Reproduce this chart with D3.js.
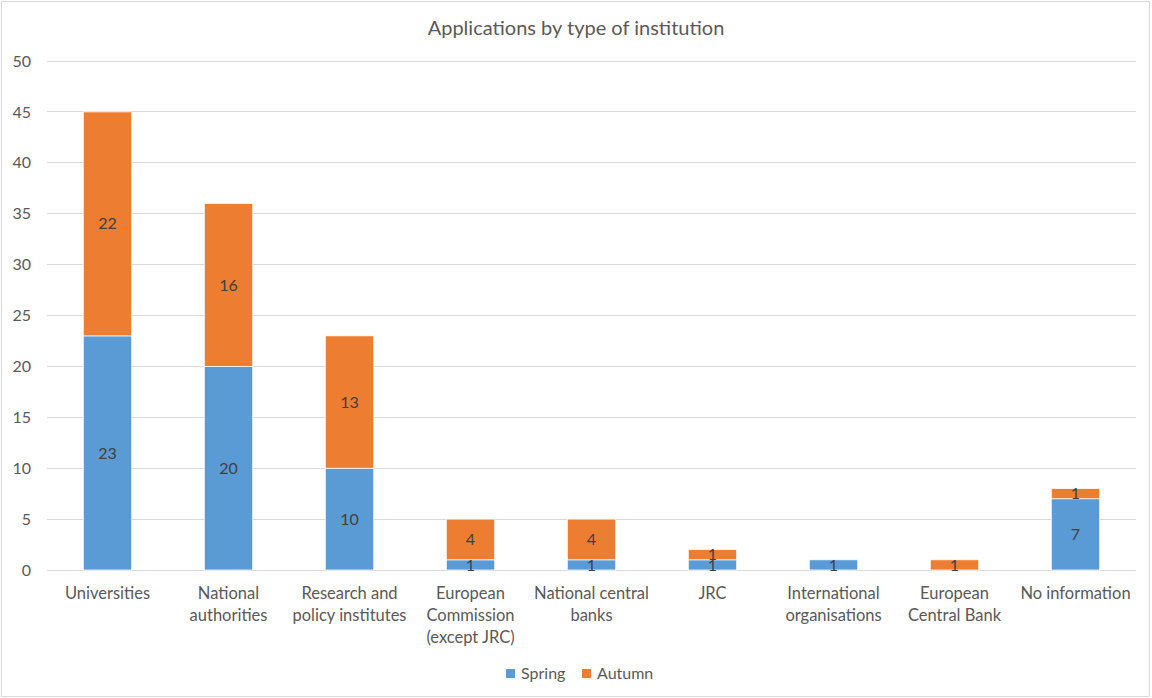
<!DOCTYPE html>
<html><head><meta charset="utf-8">
<script src="https://cdn.jsdelivr.net/npm/d3@7"></script>
<style>body{margin:0;background:#fff}svg{display:block}text{font-family:Lato,"Open Sans",sans-serif}</style>
</head><body>
<svg id="c" width="1152" height="698"></svg>
<script>
const categories = [["Universities"],["National","authorities"],["Research and","policy institutes"],["European","Commission","(except JRC)"],["National central","banks"],["JRC"],["International","organisations"],["European","Central Bank"],["No information"]];
const seriesNames = ["Spring","Autumn"];
const spring = [23,20,10,1,1,1,1,0,7];
const autumn = [22,16,13,4,4,1,0,1,1];
const yTicks = [0,5,10,15,20,25,30,35,40,45,50];
const colors = ["#5B9BD5","#ED7D31"];

const svg = d3.select("#c");
svg.append("rect").attr("x",1.5).attr("y",1.5).attr("width",1148).attr("height",695).attr("fill","#fff").attr("stroke","#d9d9d9");

const m = {l:47,r:1136,t:61,b:570};
const x = d3.scaleBand().domain(d3.range(categories.length)).range([m.l,m.r]).paddingInner(0.6).paddingOuter(0.3);
const y = d3.scaleLinear().domain([0,50]).range([m.b,m.t]);

svg.append("g").selectAll("line").data(yTicks).join("line")
  .attr("x1",m.l).attr("x2",m.r).attr("y1",d=>y(d)).attr("y2",d=>y(d))
  .attr("stroke","#d9d9d9").attr("stroke-width",1).attr("shape-rendering","crispEdges");

svg.append("g").selectAll("text").data(yTicks).join("text")
  .attr("x",31).attr("y",d=>y(d)).attr("dy","0.35em").attr("text-anchor","end")
  .attr("fill","#595959").attr("font-size",16).text(d=>d);

const data = categories.map((c,i)=>({i,vals:[spring[i],autumn[i]]}));
const stack = d3.stack().keys([0,1]).value((d,k)=>d.vals[k])(data);

const g = svg.append("g");
stack.forEach((layer,k)=>{
  g.selectAll(null).data(layer).join("rect")
    .attr("x",d=>x(d.data.i)).attr("width",x.bandwidth())
    .attr("y",d=>y(d[1])).attr("height",d=>y(d[0])-y(d[1]))
    .attr("fill",colors[k]).attr("stroke","#fff").attr("stroke-width",0.75)
    .style("display",d=>d[1]-d[0]>0?null:"none");
});
stack.forEach((layer,k)=>{
  g.selectAll(null).data(layer.filter(d=>d[1]-d[0]>0)).join("text")
    .attr("x",d=>x(d.data.i)+x.bandwidth()/2).attr("y",d=>y((d[0]+d[1])/2)).attr("dy","0.35em")
    .attr("text-anchor","middle").attr("fill","#404040").attr("font-size",16)
    .text(d=>d[1]-d[0]);
});

const xl = svg.append("g").selectAll("text").data(categories).join("text")
  .attr("x",(d,i)=>x(i)+x.bandwidth()/2).attr("y",599)
  .attr("text-anchor","middle").attr("fill","#595959").attr("font-size",16.5);
xl.selectAll("tspan").data(d=>d).join("tspan")
  .attr("x",function(){return this.parentNode.getAttribute("x");})
  .attr("dy",(d,j)=>j?"1.33em":0).text(d=>d);

svg.append("text").attr("x",576).attr("y",35).attr("text-anchor","middle")
  .attr("fill","#595959").attr("font-size",20).text("Applications by type of institution");

const leg = svg.append("g");
const legX = [506,582];
seriesNames.forEach((s,k)=>{
  leg.append("rect").attr("x",legX[k]).attr("y",669).attr("width",9).attr("height",9).attr("fill",colors[k]);
  leg.append("text").attr("x",legX[k]+15).attr("y",673.5).attr("dy","0.35em").attr("fill","#595959").attr("font-size",16).text(s);
});
</script>
</body></html>
